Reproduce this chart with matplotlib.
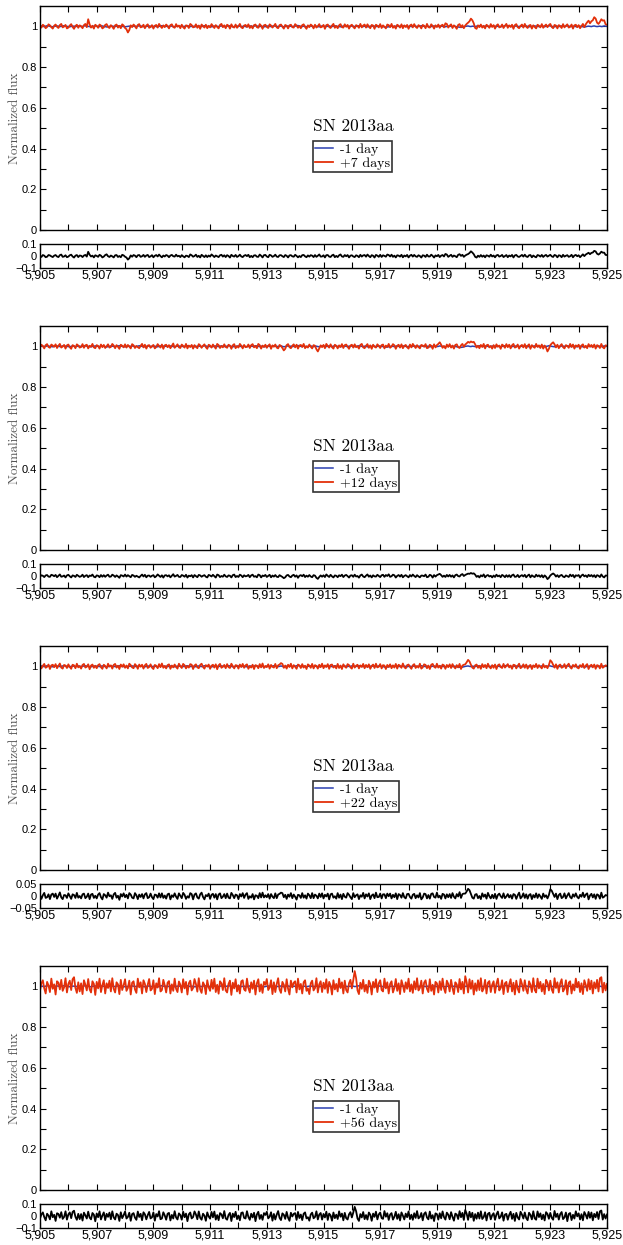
import numpy as np
import matplotlib
matplotlib.use("Agg")
import matplotlib.pyplot as plt
from matplotlib.ticker import MultipleLocator, FixedLocator, FuncFormatter

# ------------------------------------------------------------
# Data: flux deviations from 1, in units of 0.001, on a 0.05 A grid
# starting at 5905.0 A (401 samples per spectrum)
# ------------------------------------------------------------
WL_START = 5905.0
WL_STEP = 0.05

blue_m1 = [
    1, 2, 0, -1, 1, 3, 2, 0, -1, -2,
    0, 1, 2, 1, -1, 0, 2, 3, 1, 0,
    -1, -2, 0, 1, 1, -1, 0, 2, 1, -1,
    0, 2, 3, 1, 0, -1, -2, 0, 1, 2,
    1, 0, -1, 1, 2, 0, -1, -3, -1, 0,
    2, 1, 0, -1, 1, 2, 3, 1, 0, -1,
    -2, -1, 0, 1, 0, 2, 1, -1, 0, 1,
    3, 2, 0, -1, -2, 0, 1, 2, 0, -1,
    0, 1, -1, -2, 0, 2, 3, 1, 0, 1,
    -1, 0, 2, 1, -1, -2, 0, 1, 2, 0,
    1, -1, 0, 2, 3, 1, -1, 0, 1, -2,
    -1, 1, 2, 0, -1, 1, 3, 2, 0, -1,
    0, -2, -1, 1, 2, 0, -1, 1, 2, 1,
    -1, 0, 1, 3, 2, 0, -2, -1, 0, 1,
    2, 1, -1, 0, 1, -1, -2, 0, 2, 1,
    0, 1, 3, 2, 0, -1, 1, 0, -2, -1,
    1, 2, 0, -1, 1, 3, 1, 0, -1, 0,
    2, 0, -2, -1, 1, 2, 0, 1, -1, 0,
    1, 3, 4, 2, 0, -1, 1, 0, -2, 0,
    1, 2, 0, -1, 0, 1, -1, -2, 0, 2,
    1, 0, -1, 1, 2, 0, -1, 1, 3, 1,
    0, -1, -2, 0, 1, 2, 0, -1, 1, 0,
    2, 1, -1, 0, 1, 3, 2, 0, -1, 1,
    0, -2, -1, 1, 0, 2, 1, -1, 0, 2,
    1, 0, -1, -3, -4, -3, -2, 0, 1, 0,
    -1, 1, 2, 0, -1, 0, 2, 1, 0, -2,
    0, 1, -1, 0, 2, 1, -1, 0, 1, 3,
    1, 0, -1, 1, 0, -2, -1, 1, 2, 0,
    -1, 0, 2, 1, 0, -1, -2, 0, 1, 2,
    0, -1, 1, 0, -2, -3, -4, -5, -4, -2,
    0, 1, 2, 0, -1, 1, 0, -1, 1, 2,
    3, 1, 0, -1, 1, 2, 0, -1, 0, 1,
    2, 0, -1, 1, 0, -2, 0, 1, 3, 4,
    3, 1, 0, -1, 0, 1, 2, 0, -1, 1,
    0, -1, 1, 2, 0, -2, -1, 0, 1, 2,
    1, 0, -1, 0, 2, 1, -1, 0, 1, 3,
    2, 0, -1, -2, 0, 1, 0, -1, 2, 1,
    0, 1, 3, 1, 0, -1, 0, 1, -1, -2,
    0, 1, 0, -2, -3, -2, 0, 1, 0, -1,
    1, 2, 0, -1, 0, 1, -1, 0, 2, 1,
    0,
]

red_p7 = [
    4, -6, 8, 2, -9, -3, 10, 5, -4, -11,
    3, 9, -2, -8, 6, 12, -5, -1, 7, -10,
    -6, 4, 11, -3, -12, 2, 8, -7, 5, 1,
    -9, 6, 12, -4, 35, 10, -6, 3, -11, 8,
    2, -7, 9, 4, -10, -5, 7, 11, -3, -8,
    6, -2, -12, 5, 9, -6, 3, -9, 10, 4,
    -8, -14, -30, -18, 5, -4, 9, 2, -10, 7,
    11, -5, -2, 8, -9, 4, 10, -7, -3, 6,
    -11, 3, 7, -6, 12, 1, -8, 5, -4, 9,
    2, -10, 6, 10, -3, -7, 11, -2, 4, -9,
    8, -4, -11, 5, 3, -8, 12, 6, -5, -2,
    10, -7, 4, -12, 9, 1, -6, 8, -9, 3,
    -5, 11, 2, -8, 6, -3, -10, 7, 12, -4,
    5, -9, 8, 3, -11, 10, -2, -6, 9, -7,
    1, 12, -5, -9, 4, 7, -3, 10, -8, 2,
    -10, 6, 9, -4, -7, 11, 3, -12, 5, 8,
    -3, -8, 10, 4, -6, 2, 12, -5, -9, 6,
    9, -2, -11, 7, 3, -10, 5, 8, -4, -6,
    11, 4, -7, 2, -9, 6, 10, -3, -12, 5,
    -4, 9, 3, -10, 8, -6, 1, 11, -5, -2,
    7, -12, 6, 9, -3, -8, 4, 12, -7, 2,
    -9, 5, 11, -4, -6, 10, -2, 7, -11, 3,
    8, -3, -10, 6, 2, -7, 12, -5, 4, 9,
    -6, 10, -1, -9, 7, 4, -12, 8, 3, -5,
    11, -8, 5, -2, -10, 9, 6, -4, 12, -7,
    2, -11, 8, 3, -6, 10, -9, 5, -3, 7,
    -12, 4, 9, -5, 11, -2, -8, 6, 1, -10,
    7, 3, -9, 12, -4, -6, 10, 2, -11, 5,
    -3, 9, -7, 4, 8, -5, 15, 12, -6, 3,
    10, -8, 5, -2, -12, 7, 11, -4, 6, -9,
    4, 12, 18, 25, 38, 30, 15, -8, -12, 5,
    -4, 9, -6, 3, -10, 8, 2, -7, 11, -3,
    6, -11, 4, 10, -5, -2, 9, -8, 3, 12,
    -7, 5, -3, 8, -12, 6, 11, -4, -9, 2,
    9, -6, 12, -2, -8, 4, 7, -11, 5, -3,
    -10, 8, 3, -5, 11, -7, 2, 9, -4, 6,
    12, -3, -9, 7, 4, -10, 6, 2, -8, 11,
    -5, 3, 10, -6, -2, 9, -11, 5, 8, -4,
    6, -9, 2, 12, -4, 10, 20, 28, 15, 25,
    30, 45, 38, 18, 12, 22, 35, 28, 30, 10,
    8,
]

red_p12 = [
    -5, 8, 2, -10, 6, 11, -3, -7, 9, 4,
    -2, 10, -8, 3, 12, -6, -1, 7, -11, 5,
    9, -4, -12, 6, 2, -9, 10, 4, -6, -3,
    11, -7, 5, 8, -10, 3, -2, 12, -5, -9,
    6, 2, -11, 9, -4, 7, -8, 1, 10, -6,
    -3, 12, 4, -9, 6, -2, -12, 8, 3, -5,
    10, -6, 7, -1, -10, 11, 5, -8, 2, -4,
    -9, 3, 12, -5, 8, -11, 4, 6, -7, 1,
    7, -10, -3, 11, 2, -6, 9, -12, 5, 8,
    -4, 6, -9, 3, 14, -7, 1, 10, -5, -8,
    9, 2, -6, 12, -10, 4, -3, 7, -11, 6,
    -2, -9, 11, 5, -7, 3, 10, -4, -12, 8,
    4, -6, 9, -1, -11, 12, 6, -8, 2, -5,
    10, -3, -7, 8, 4, -12, 5, 11, -9, 1,
    -6, 12, 3, -10, 7, -4, -2, 9, -8, 6,
    11, -5, 2, -9, 12, 6, -11, 4, -3, 8,
    -7, 3, 10, -12, 5, -2, 9, -6, -10, 7,
    2, -8, -20, -12, 6, 11, -4, -9, 3, 10,
    -5, 8, -11, 4, 7, -3, 12, -9, 1, -6,
    9, -2, -10, 6, 3, -14, -25, -10, 5, -4,
    7, -9, 12, 2, -6, 10, -4, -11, 8, 3,
    -10, 5, -3, 11, -8, 6, 9, -2, -12, 4,
    8, -6, 10, -4, 1, -11, 7, 12, -5, -9,
    3, 11, -7, 5, -12, 8, -2, -6, 10, 2,
    -8, 6, 9, -10, 4, -3, 12, -7, -1, 11,
    5, -12, 3, 8, -6, 10, -9, 2, 7, -4,
    -11, 9, -5, 12, 2, -8, 6, -3, -10, 7,
    4, -2, 11, -9, -6, 8, 3, -12, 10, -5,
    6, 12, 20, 8, -7, 2, -10, 9, -3, 11,
    -6, 4, -11, 7, 10, -4, -8, 5, 12, -2,
    9, 15, 22, 18, 24, 20, 22, 10, -6, 3,
    -9, 7, -3, 12, -10, 5, 8, -5, 2, -11,
    6, -8, 10, -2, 4, -12, 9, 3, -7, 11,
    -4, 8, -10, 5, 12, -6, -3, 9, -11, 2,
    7, -5, 11, -9, 3, 10, -12, 6, -2, -7,
    12, -3, 5, -8, 9, -11, 4, -6, -25, -12,
    6, 14, 20, 10, -5, 8, -9, 3, 11, -4,
    -10, 6, 2, -7, 12, -3, 9, -11, 5, -1,
    8, -12, 4, 10, -6, 3, -9, 11, -2, 7,
    -5, 9, -11, 6, 2, -8, 12, -4, -10, 5,
    3,
]

red_p22 = [
    6, -10, 3, 12, -7, -2, 9, -13, 5, 8,
    -4, 11, -9, 2, 14, -6, -11, 7, 4, -8,
    10, -3, -12, 8, 5, -9, 13, -5, 1, -11,
    7, 12, -6, -2, 10, -14, 4, 9, -7, 3,
    -9, 6, 11, -4, -12, 8, 2, -10, 13, -1,
    5, -11, 7, 12, -6, 3, -13, 9, -2, 10,
    -7, 4, -10, 13, 6, -5, -9, 11, 3, -12,
    9, -2, 8, -11, 5, 12, -8, -3, 10, -6,
    -13, 7, 3, -9, 11, -4, 14, -7, 2, -10,
    6, 10, -12, 4, -5, 9, -3, -11, 13, 1,
    -8, 12, 5, -10, 2, -6, 11, 8, -13, 4,
    10, -5, -9, 7, 13, -3, -11, 6, -1, 9,
    -12, 3, 8, -6, 10, -14, 5, 12, -7, -2,
    7, -9, 11, -4, -8, 13, 2, -10, 6, 4,
    -11, 9, -3, 12, -7, 5, 10, -12, 1, -6,
    8, -13, 6, 3, -9, 11, -5, 14, -8, 2,
    -4, 10, -11, 7, -2, -6, 12, -9, 5, 9,
    16, 12, -7, 4, -11, 8, -3, 13, -10, 6,
    -2, -12, 9, 5, -8, 11, -6, 3, -13, 10,
    4, -7, 12, -10, 6, 2, -11, 8, -4, 13,
    -9, 5, -3, 11, -12, 7, 9, -6, 2, -10,
    12, -8, 4, -13, 10, -1, -7, 11, 6, -5,
    -11, 13, -6, 3, 8, -10, 5, -3, 12, -9,
    7, -4, 10, -12, 2, 9, -8, 13, -5, -2,
    11, -10, 6, 4, -13, 7, -3, 10, -9, 5,
    -6, 12, -11, 8, 3, -7, 14, -4, -10, 6,
    9, -3, -12, 5, 11, -8, 2, -6, 13, -11,
    -5, 10, 7, -9, 4, -13, 8, 12, -2, -7,
    13, -6, 3, -11, 9, 5, -12, 7, -4, 10,
    -8, 11, -2, -10, 6, -5, 12, -13, 4, 8,
    10, 20, 32, 24, 8, -6, -11, 5, 9, -7,
    3, -12, 11, -4, 7, -9, 13, -2, -10, 6,
    -7, 9, -13, 5, 10, -3, -8, 12, -6, 2,
    11, -5, 4, -12, 8, 6, -10, 3, 13, -9,
    -3, 10, -7, 9, -11, 2, 7, -13, 5, -4,
    12, -8, 6, -2, -10, 11, -5, 3, -9, 7,
    30, 22, 8, -6, 10, -12, 4, 9, -7, -3,
    11, -9, 5, 13, -4, -11, 7, -2, 10, -6,
    -10, 6, -3, 12, -8, 4, 11, -13, 2, 8,
    -5, 9, -12, 6, 3, -10, 13, -7, -1, 5,
    2,
]

red_p56 = [
    -20, 15, 30, -10, -35, 22, 5, -28, 38, -12,
    10, -40, 25, 18, -15, 32, -22, -5, 40, -30,
    12, 28, -18, 35, 45, -8, -32, 20, -25, 15,
    -38, 30, 8, -20, 36, -14, -30, 25, 12, -42,
    22, -10, 38, -28, 6, 30, -35, 15, -8, 28,
    -25, 40, -12, -30, 20, 10, -38, 32, -18, 5,
    35, -22, -8, 28, -40, 18, 25, -15, -32, 38,
    -5, 20, -35, 30, 12, -28, 8, 36, -20, -12,
    30, -38, 15, -6, 40, -25, -18, 32, 5, -30,
    18, 26, -35, 10, -22, 38, -12, -28, 24, 8,
    -30, 35, -10, 22, -40, 15, 28, -20, -8, 36,
    12, -26, 40, -15, -32, 20, 6, -38, 30, -5,
    -22, 32, -12, 38, -28, 8, -36, 25, 15, -18,
    40, -20, -30, 12, 28, -42, 18, -10, 35, -25,
    6, -35, 25, 30, -15, -22, 38, -8, -30, 20,
    -12, 28, -40, 15, 35, -25, 10, -32, 22, 8,
    36, -18, -6, 30, -38, 20, -28, 12, 40, -15,
    -32, 22, 8, -25, 35, -12, -40, 28, -5, 18,
    25, -30, 38, -15, 12, -35, 20, 30, -22, -10,
    -38, 15, 28, -20, -8, 40, -30, 10, 25, -28,
    18, -12, 35, -32, 22, 5, -40, 30, -15, 12,
    -25, 38, -8, 20, -35, 28, -18, -30, 15, 32,
    -10, 30, 75, 40, -20, -38, 18, -12, 32, -25,
    8, -32, 28, 12, -40, 22, -6, 35, -28, 15,
    30, -18, -25, 38, -10, 20, -35, 12, 25, -30,
    -8, 36, -22, 15, -38, 30, 5, -28, 20, -12,
    38, -25, 10, -32, 25, -15, 40, -20, -8, 28,
    -35, 18, 30, -12, -28, 35, -22, 8, -40, 22,
    15, -30, 25, -18, 38, -10, -32, 28, 12, -25,
    32, -8, -38, 20, 10, -28, 36, -15, 22, -35,
    50, 20, -30, 35, -12, 28, -40, 15, -22, 30,
    -18, 40, -25, -10, 32, -35, 18, 26, -28, 8,
    25, -32, 12, 38, -20, -8, 30, -38, 15, 22,
    -28, 10, 35, -25, 18, -40, 28, -12, -30, 36,
    12, -22, 30, -15, -35, 25, 8, -28, 40, -18,
    -30, 38, -10, 22, -25, 12, -38, 32, 18, -20,
    28, -15, -32, 40, -8, 20, -30, 15, 35, -25,
    -12, 30, -40, 18, 25, -35, 10, -20, 38, -5,
    22, -28, 15, -38, 30, 8, -22, 35, -15, 28,
    -35, 20, -10, 32, -25, 40, 45, -30, 18, -20,
    12,
]

labels_late = ["+7 days", "+12 days", "+22 days", "+56 days"]
reds_late = [red_p7, red_p12, red_p22, red_p56]
res_limits = [0.1, 0.1, 0.05, 0.1]

BLUE = "#2a3fb0"
RED = "#e3300a"
SERIF = "cmr10"
SANS = "Liberation Sans"

W, H = 623, 1245
fig = plt.figure(figsize=(W / 100, H / 100), dpi=100)


def px_axes(left, top, right, bottom):
    return fig.add_axes([left / W, 1 - bottom / H, (right - left) / W, (bottom - top) / H])


def style_ticks(ax):
    ax.tick_params(which="both", direction="in", top=True, right=True,
                   width=0.8, length=4)
    ax.tick_params(axis="x", labelsize=9)
    ax.tick_params(axis="y", labelsize=8, pad=2)
    for lab in ax.get_xticklabels() + ax.get_yticklabels():
        lab.set_fontfamily(SANS)
    for s in ax.spines.values():
        s.set_linewidth(1.0)


xfmt = FuncFormatter(lambda v, p: f"{v:,.0f}" if int(round(v)) % 2 == 1 else "")
yfmt = FuncFormatter(lambda v, p: f"{v:g}".replace("-", "\u2212"))

blue = 1 + np.array(blue_m1) / 1000.0

for k in range(4):
    red = 1 + np.array(reds_late[k]) / 1000.0
    wl = WL_START + WL_STEP * np.arange(len(red))
    off = 320 * k

    ax = px_axes(40, 6 + off, 607, 230 + off)
    ax.plot(wl, blue, color=BLUE, lw=1.1, label="-1 day")
    ax.plot(wl, red, color=RED, lw=1.3, label=labels_late[k])
    ax.set_xlim(5905, 5925)
    ax.set_ylim(0, 1.1)
    ax.xaxis.set_major_locator(MultipleLocator(1))
    ax.set_xticklabels([])
    ax.yaxis.set_major_locator(FixedLocator([0, 0.2, 0.4, 0.6, 0.8, 1.0]))
    ax.yaxis.set_minor_locator(FixedLocator([0.1, 0.3, 0.5, 0.7, 0.9]))
    ax.yaxis.set_major_formatter(yfmt)
    ax.set_ylabel("Normalized flux", fontfamily=SERIF, fontsize=9.5, color="#555555")
    ax.yaxis.set_label_coords(-0.034, 0.5)
    style_ticks(ax)

    ax.text(0.553, 0.462, "SN 2013aa", transform=ax.transAxes, ha="center",
            va="center", fontfamily=SERIF, fontsize=12.5)
    leg = ax.legend(loc="upper left", bbox_to_anchor=(0.481, 0.397), borderaxespad=0,
                    prop={"family": SERIF, "size": 10}, frameon=True, fancybox=False,
                    handlelength=1.3, handletextpad=0.5, borderpad=0.15,
                    labelspacing=0.1)
    leg.get_frame().set_edgecolor("black")
    leg.get_frame().set_linewidth(1.2)

    # residual panel
    axr = px_axes(40, 244 + off, 607, 268 + off)
    axr.plot(wl, red - blue, color="black", lw=1.3)
    lim = res_limits[k]
    axr.set_xlim(5905, 5925)
    axr.set_ylim(-lim, lim)
    axr.xaxis.set_major_locator(MultipleLocator(1))
    axr.xaxis.set_major_formatter(xfmt)
    axr.yaxis.set_major_locator(FixedLocator([-lim, 0, lim]))
    axr.yaxis.set_major_formatter(yfmt)
    style_ticks(axr)
    axr.tick_params(axis="x", pad=1)
    axr.tick_params(axis="y", length=0)

fig.savefig("out.png", dpi=100, facecolor="white")
